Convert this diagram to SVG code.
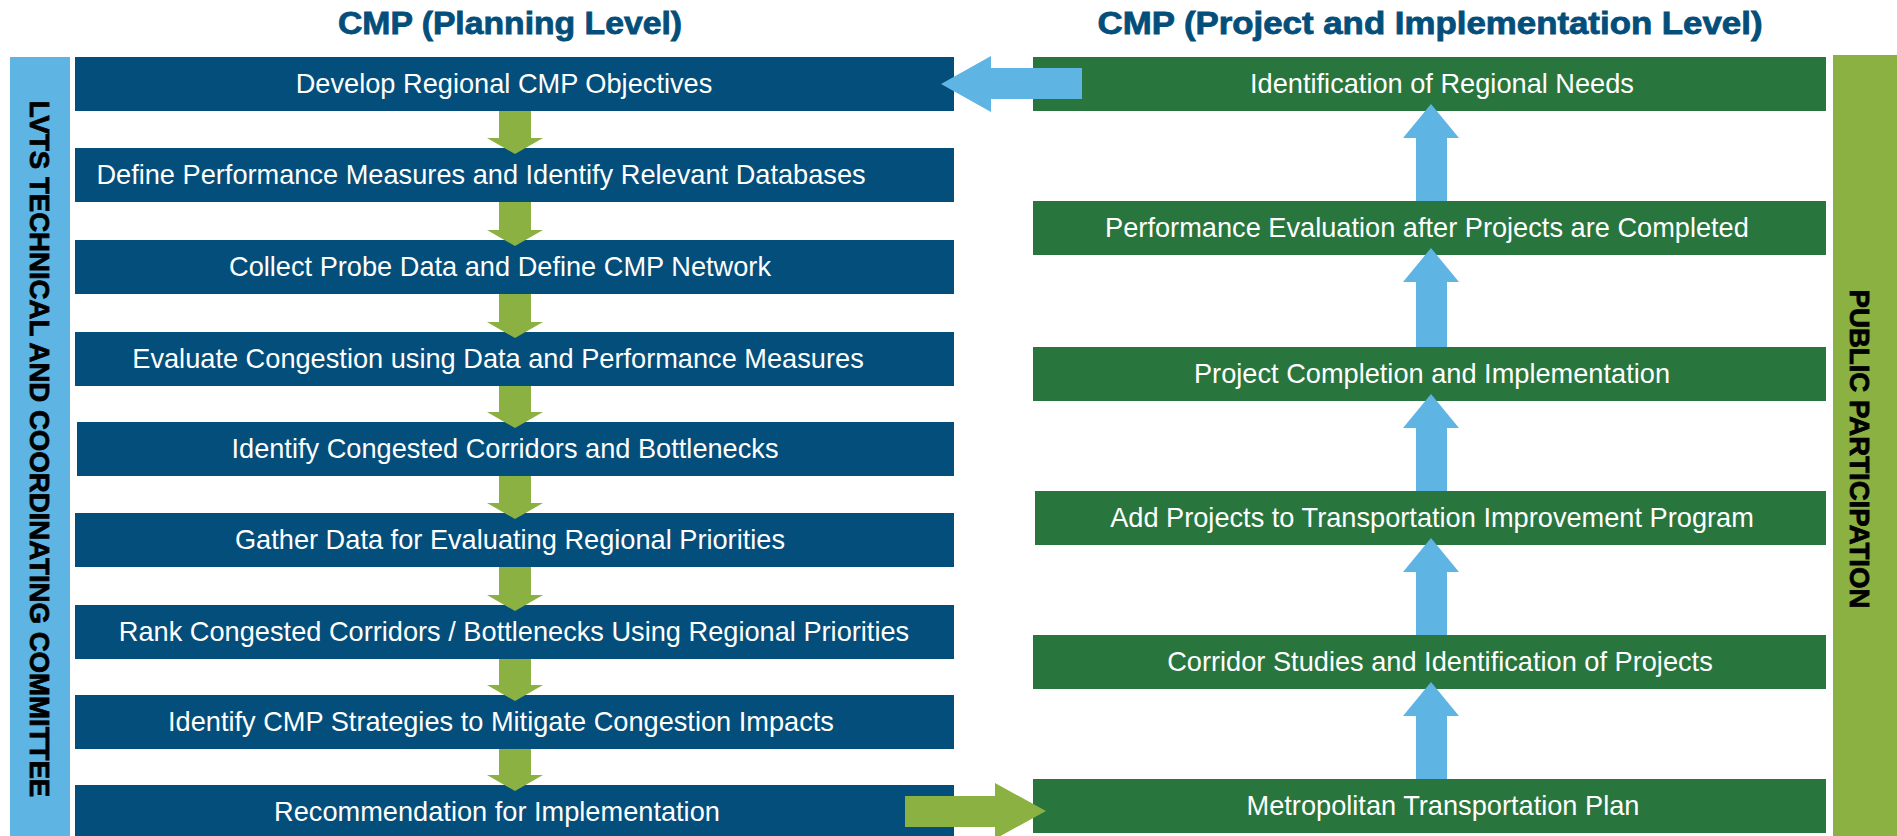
<svg xmlns="http://www.w3.org/2000/svg" width="1897" height="836" viewBox="0 0 1897 836">
<style>
.bg{fill:#ffffff}
.pbox{fill:#034E7A}
.gbox{fill:#28753E}
.lbar{fill:#5EB5E4}
.obar{fill:#8AB142}
.t{font-family:"Liberation Sans",Arial,sans-serif;font-size:27.2px;fill:#ffffff;text-anchor:middle}
.title{font-family:"Liberation Sans",Arial,sans-serif;font-size:30.5px;font-weight:bold;fill:#034E7A;stroke:#034E7A;stroke-width:0.8px;text-anchor:middle}
.vt{font-family:"Liberation Sans",Arial,sans-serif;font-size:27.6px;font-weight:bold;fill:#000000;stroke:#000000;stroke-width:0.8px;text-anchor:middle}
.ga{fill:#8AB142}
.ba{fill:#5EB5E4}
</style>
<rect class="bg" x="0" y="0" width="1897" height="836"/>
<g id="titles">
<text class="title" x="510" y="34" textLength="344" lengthAdjust="spacingAndGlyphs">CMP (Planning Level)</text>
<text class="title" x="1430" y="34" textLength="665" lengthAdjust="spacingAndGlyphs">CMP (Project and Implementation Level)</text>
</g>
<g id="lvts-committee">
<rect class="lbar" x="10" y="57" width="60" height="779"/>
<text class="vt" transform="translate(40,449) rotate(90)" x="0" y="10">LVTS TECHNICAL AND COORDINATING COMMITTEE</text>
</g>
<g id="public-participation">
<rect class="obar" x="1833" y="55" width="64" height="781"/>
<text class="vt" transform="translate(1860,449) rotate(90)" x="0" y="10">PUBLIC PARTICIPATION</text>
</g>
<g id="p1"><rect class="pbox" x="75" y="57" width="879" height="54"/><text class="t" x="504" y="93">Develop Regional CMP Objectives</text></g>
<g id="p2"><rect class="pbox" x="75" y="148" width="879" height="54"/><text class="t" x="481" y="184">Define Performance Measures and Identify Relevant Databases</text></g>
<g id="p3"><rect class="pbox" x="75" y="240" width="879" height="54"/><text class="t" x="500" y="276">Collect Probe Data and Define CMP Network</text></g>
<g id="p4"><rect class="pbox" x="75" y="332" width="879" height="54"/><text class="t" x="498" y="368">Evaluate Congestion using Data and Performance Measures</text></g>
<g id="p5"><rect class="pbox" x="77" y="422" width="877" height="54"/><text class="t" x="505" y="458">Identify Congested Corridors and Bottlenecks</text></g>
<g id="p6"><rect class="pbox" x="75" y="513" width="879" height="54"/><text class="t" x="510" y="549">Gather Data for Evaluating Regional Priorities</text></g>
<g id="p7"><rect class="pbox" x="75" y="605" width="879" height="54"/><text class="t" x="514" y="641">Rank Congested Corridors / Bottlenecks Using Regional Priorities</text></g>
<g id="p8"><rect class="pbox" x="75" y="695" width="879" height="54"/><text class="t" x="501" y="731">Identify CMP Strategies to Mitigate Congestion Impacts</text></g>
<g id="p9"><rect class="pbox" x="75" y="785" width="879" height="54"/><text class="t" x="497" y="821">Recommendation for Implementation</text></g>
<g id="r1"><rect class="gbox" x="1033" y="57" width="793" height="54"/><text class="t" x="1442" y="93">Identification of Regional Needs</text></g>
<g id="r2"><rect class="gbox" x="1033" y="201" width="793" height="54"/><text class="t" x="1427" y="237">Performance Evaluation after Projects are Completed</text></g>
<g id="r3"><rect class="gbox" x="1033" y="347" width="793" height="54"/><text class="t" x="1432" y="383">Project Completion and Implementation</text></g>
<g id="r4"><rect class="gbox" x="1035" y="491" width="791" height="54"/><text class="t" x="1432" y="527">Add Projects to Transportation Improvement Program</text></g>
<g id="r5"><rect class="gbox" x="1033" y="635" width="793" height="54"/><text class="t" x="1440" y="671">Corridor Studies and Identification of Projects</text></g>
<g id="r6"><rect class="gbox" x="1033" y="779" width="793" height="54"/><text class="t" x="1443" y="815">Metropolitan Transportation Plan</text></g>
<g id="connectors">
<polygon class="ga" points="499,111 531,111 531,138 543,138 515,154 487,138 499,138"/>
<polygon class="ga" points="499,202 531,202 531,230 543,230 515,246 487,230 499,230"/>
<polygon class="ga" points="499,294 531,294 531,322 543,322 515,338 487,322 499,322"/>
<polygon class="ga" points="499,386 531,386 531,412 543,412 515,428 487,412 499,412"/>
<polygon class="ga" points="499,476 531,476 531,503 543,503 515,519 487,503 499,503"/>
<polygon class="ga" points="499,567 531,567 531,595 543,595 515,611 487,595 499,595"/>
<polygon class="ga" points="499,659 531,659 531,685 543,685 515,701 487,685 499,685"/>
<polygon class="ga" points="499,749 531,749 531,775 543,775 515,791 487,775 499,775"/>
<polygon class="ba" points="1416,201 1416,138 1403,138 1431,104 1459,138 1447,138 1447,201"/>
<polygon class="ba" points="1416,347 1416,282 1403,282 1431,248 1459,282 1447,282 1447,347"/>
<polygon class="ba" points="1416,491 1416,428 1403,428 1431,394 1459,428 1447,428 1447,491"/>
<polygon class="ba" points="1416,635 1416,572 1403,572 1431,538 1459,572 1447,572 1447,635"/>
<polygon class="ba" points="1416,779 1416,716 1403,716 1431,682 1459,716 1447,716 1447,779"/>
<polygon class="ba" points="941,84 991,56 991,68 1082,68 1082,99 991,99 991,112"/>
<polygon class="ga" points="905,796 995,796 995,783 1046,811 995,839 995,827 905,827"/>
</g>
</svg>
